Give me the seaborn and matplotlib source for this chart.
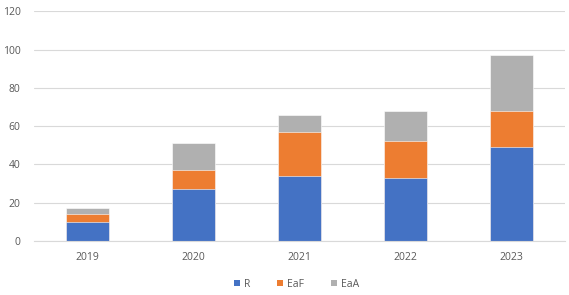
import numpy as np
import pandas as pd
import seaborn as sns
import matplotlib.pyplot as plt
from matplotlib.patches import Patch

years = ["2019", "2020", "2021", "2022", "2023"]
r_vals = [10, 27, 34, 33, 49]
eaf_vals = [4, 10, 23, 19, 19]
eaa_vals = [3, 14, 9, 16, 29]

colors = {"R": "#4472C4", "EaF": "#ED7D31", "EaA": "#B0B0B0"}
text_color = "#595959"


def main():
    df = pd.DataFrame({"year": years, "R": r_vals, "EaF": eaf_vals, "EaA": eaa_vals})
    # cumulative tops so the bars can be drawn back-to-front
    df["top_R"] = df["R"]
    df["top_EaF"] = df["R"] + df["EaF"]
    df["top_EaA"] = df["top_EaF"] + df["EaA"]

    sns.set_style("white")
    plt.rcParams["font.family"] = ["Open Sans", "DejaVu Sans"]

    fig = plt.figure(figsize=(5.69, 2.95), dpi=100)
    ax = fig.add_axes([0.0606, 0.183, 0.9315, 0.7787])

    for col, name in [("top_EaA", "EaA"), ("top_EaF", "EaF"), ("top_R", "R")]:
        sns.barplot(data=df, x="year", y=col, color=colors[name], width=0.4,
                    saturation=1, ax=ax, edgecolor="white", linewidth=0.4)

    ax.set_ylim(0, 120)
    ax.set_xlim(-0.5, len(years) - 0.5)
    ax.set_yticks(np.arange(0, 121, 20))
    ax.yaxis.grid(True, color="#D9D9D9", linewidth=0.8)
    ax.set_axisbelow(True)
    for s in ["top", "right", "left"]:
        ax.spines[s].set_visible(False)
    ax.spines["bottom"].set_color("#D9D9D9")
    ax.spines["bottom"].set_linewidth(0.8)
    ax.set_xlabel("")
    ax.set_ylabel("")
    ax.tick_params(axis="both", length=0, labelsize=7.5, labelcolor=text_color)
    ax.tick_params(axis="y", pad=10)
    ax.tick_params(axis="x", pad=8)

    handles = [Patch(facecolor=colors[n], edgecolor="none") for n in ["R", "EaF", "EaA"]]
    fig.legend(handles, ["R", "EaF", "EaA"], loc="center", bbox_to_anchor=(0.521, 0.037),
               ncol=3, frameon=False, fontsize=7.5, labelcolor=text_color,
               handlelength=0.55, handleheight=0.55, handletextpad=0.4, columnspacing=2.6)

    fig.savefig("out.png", dpi=100)


if __name__ == "__main__":
    main()
